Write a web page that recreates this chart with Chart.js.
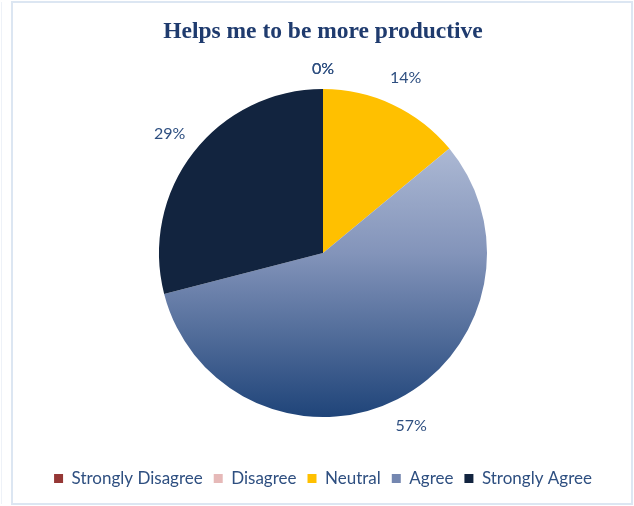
<!DOCTYPE html>
<html lang="en">
<head>
    <meta charset="UTF-8">
    <title>Helps me to be more productive</title>
    <script src="https://cdn.jsdelivr.net/npm/chart.js"></script>
    <style>
        html, body { margin: 0; padding: 0; background: #fff; }
        canvas { display: block; }
    </style>
</head>
<body>
    <canvas id="grafico" width="634" height="506"></canvas>

    <script>
        const categorias = ["Strongly Disagree", "Disagree", "Neutral", "Agree", "Strongly Agree"];
        const valores = [0, 0, 14, 57, 29];
        const rotulos = ["0%", "0%", "14%", "57%", "29%"];
        const cores = ["#953735", "#E6B9B8", "#FFC000", null, "#12243F"];

        // gradient for the "Agree" slice, top light to bottom dark
        function corFatia(context) {
            const i = context.dataIndex;
            if (cores[i]) return cores[i];
            const area = context.chart.chartArea;
            if (!area) return "#6F84AD";
            const c = context.chart.ctx;
            const cy = (area.top + area.bottom) / 2;
            const g = c.createLinearGradient(0, cy - 164, 0, cy + 164);
            g.addColorStop(0, "#C3CDE2");
            g.addColorStop(0.5, "#8394BA");
            g.addColorStop(1, "#1F4479");
            return g;
        }

        const moldura = {
            id: 'moldura',
            beforeDraw(chart) {
                const c = chart.ctx;
                c.save();
                c.strokeStyle = "#DCE6F2";
                c.lineWidth = 2;
                c.strokeRect(12, 2, 620, 502);
                c.strokeStyle = "#EEF2F8";
                c.lineWidth = 1;
                c.beginPath();
                c.moveTo(1.5, 2);
                c.lineTo(1.5, 504);
                c.stroke();
                c.restore();
            }
        };

        const rotulosFora = {
            id: 'rotulosFora',
            afterDatasetsDraw(chart) {
                const c = chart.ctx;
                const meta = chart.getDatasetMeta(0);
                c.save();
                c.font = "16px Lato";
                c.fillStyle = "#2E4F80";
                c.textAlign = "center";
                c.textBaseline = "middle";
                meta.data.forEach((arc, i) => {
                    const p = arc.getProps(['x', 'y', 'startAngle', 'endAngle', 'outerRadius'], true);
                    const a = (p.startAngle + p.endAngle) / 2;
                    const r = p.outerRadius + (valores[i] > 0 ? 30 : 20);
                    c.fillText(rotulos[i], p.x + Math.cos(a) * r, p.y + Math.sin(a) * r);
                });
                c.restore();
            }
        };

        const ctx = document.getElementById('grafico');

        let grafico = new Chart(ctx, {
            type: 'pie',
            data: {
                labels: categorias,
                datasets: [{
                    data: valores,
                    backgroundColor: corFatia,
                    borderWidth: 0,
                    radius: 164
                }]
            },
            options: {
                responsive: false,
                animation: false,
                devicePixelRatio: 1,
                layout: {
                    padding: { left: 12, right: 0, top: 0, bottom: 9 }
                },
                plugins: {
                    title: {
                        display: true,
                        text: "Helps me to be more productive",
                        color: "#1F3B6E",
                        font: { family: "Liberation Serif", size: 23.5, weight: 'bold' },
                        padding: { top: 18, bottom: 1 }
                    },
                    legend: {
                        position: 'bottom',
                        labels: {
                            color: "#2E4F80",
                            font: { family: "Lato", size: 17 },
                            boxWidth: 9,
                            boxHeight: 9,
                            padding: 11,
                            generateLabels(chart) {
                                return categorias.map((nome, i) => ({
                                    text: nome,
                                    fillStyle: cores[i] || "#7487B0",
                                    strokeStyle: "transparent",
                                    lineWidth: 0,
                                    fontColor: "#2E4F80",
                                    index: i,
                                    hidden: false
                                }));
                            }
                        }
                    },
                    tooltip: { enabled: false }
                }
            },
            plugins: [moldura, rotulosFora]
        });
    </script>
</body>
</html>
